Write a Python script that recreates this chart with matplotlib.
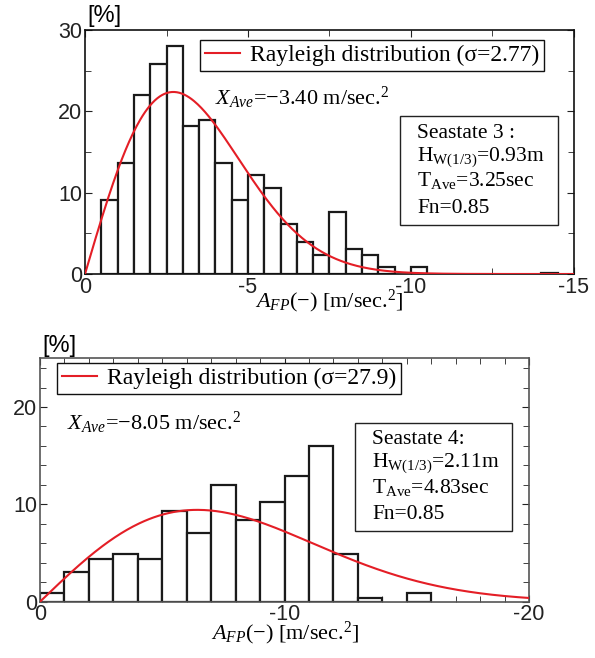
import numpy as np
import matplotlib
matplotlib.use("Agg")
import matplotlib.pyplot as plt
from matplotlib.patches import Rectangle
from matplotlib.ticker import MultipleLocator

plt.rcParams['font.family'] = ['Liberation Sans', 'DejaVu Sans']
plt.rcParams['mathtext.fontset'] = 'custom'
plt.rcParams['mathtext.rm'] = 'Liberation Serif'
plt.rcParams['mathtext.it'] = 'Liberation Serif:italic'
plt.rcParams['mathtext.bf'] = 'Liberation Serif:bold'

# seastate 3 histogram (bin centres in m/sec^2, percentage)
top_centers = [-0.75, -1.25, -1.75, -2.25, -2.75, -3.25, -3.75, -4.25, -4.75, -5.25,
               -5.75, -6.25, -6.75, -7.25, -7.75, -8.25, -8.75, -9.25, -10.25, -14.25]
top_pct = [9.1, 13.7, 22.0, 25.8, 28.0, 18.2, 18.9, 13.7, 9.1, 12.2,
           10.6, 6.1, 3.9, 2.3, 7.6, 3.1, 2.3, 0.8, 0.8, 0.15]
top_sigma = 2.71
top_sigma_label = "2.77"

# seastate 4 histogram
bot_centers = [-0.5, -1.5, -2.5, -3.5, -4.5, -5.5, -6.5, -7.5, -8.5, -9.5,
               -10.5, -11.5, -12.5, -13.5, -15.5]
bot_pct = [0.86, 3.1, 4.4, 4.85, 4.4, 9.3, 7.1, 12.0, 8.4, 10.2,
           12.9, 16.0, 4.9, 0.4, 0.9]
bot_sigma = 6.43
bot_sigma_label = "27.9"

W, H = 595, 658
fig = plt.figure(figsize=(W / 100, H / 100), dpi=100)


def fx(x):
    return x / W


def fy(y):
    return 1 - y / H


def rayleigh(r, s):
    return 100 * r / s**2 * np.exp(-r**2 / (2 * s**2))


serif = 'Liberation Serif'
red = '#e41e26'


def draw(ax, centers, pct, width, sigma, xmax, ymax, spine_col):
    ax.bar(centers, pct, width=width, facecolor='white', edgecolor='#1a1a1a',
           linewidth=1.6, zorder=2)
    r = np.linspace(0, xmax, 400)
    line, = ax.plot(-r, rayleigh(r, sigma), color=red, lw=1.5, zorder=3)
    ax.set_xlim(0, -xmax)
    ax.set_ylim(0, ymax)
    ax.tick_params(which='both', direction='in', top=True, right=True,
                   labelsize=15.5, pad=2, colors='#222')
    ax.tick_params(which='major', length=5)
    ax.tick_params(which='minor', length=4)
    for s in ax.spines.values():
        s.set_color(spine_col)
        s.set_linewidth(1.2)
    return line


def add_legend(ax, line, label, x, y):
    leg = ax.legend([line], [label], loc='upper left', bbox_to_anchor=(fx(x), fy(y)),
                    bbox_transform=fig.transFigure, prop={'family': serif, 'size': 17},
                    frameon=True, fancybox=False, edgecolor='#111', framealpha=1,
                    handlelength=1.5, handletextpad=0.4, borderpad=0.2,
                    borderaxespad=0)
    leg.get_frame().set_linewidth(1.0)


# --- top chart
ax1 = fig.add_axes([fx(85), fy(274), fx(574) - fx(85), fy(30) - fy(274)])
l1 = draw(ax1, top_centers, top_pct, 0.5, top_sigma, 15, 30, '#111')
ax1.xaxis.set_minor_locator(MultipleLocator(2.5))
ax1.yaxis.set_major_locator(MultipleLocator(10))
ax1.yaxis.set_minor_locator(MultipleLocator(5))
ax1.set_xticks([0, -5, -10, -15])
ax1.set_xticklabels(['0', '-5', '-10', '-15'])
add_legend(ax1, l1, "Rayleigh distribution (σ=%s)" % top_sigma_label, 200, 40)

fig.text(fx(215), fy(105), r"$X_{Ave}$=−3.40 m/sec.$^2$", fontsize=16,
         family=serif, va='baseline')
fig.text(fx(87), fy(16), "[%]", fontsize=17, va='center')
fig.text(fx(329), fy(307), r"$A_{FP}$(−) [m/sec.$^2$]", fontsize=16,
         family=serif, ha='center', va='baseline')

fig.patches.append(Rectangle((fx(400), fy(225)), fx(558) - fx(400), fy(116) - fy(225),
                             transform=fig.transFigure, facecolor='white',
                             edgecolor='#222', lw=1.0, zorder=5))
top_lines = ["Seastate 3 :", r"H$_{\rm W(1/3)}$=0.93m", r"T$_{\rm Ave}$=3.25sec", "Fn=0.85"]
for txt, yb in zip(top_lines, [137.7, 160.7, 185.7, 213]):
    fig.text(fx(417), fy(yb), txt, fontsize=15.5, family=serif, va='baseline', zorder=6)

# --- bottom chart
ax2 = fig.add_axes([fx(40), fy(601.7), fx(529) - fx(40), fy(358.3) - fy(601.7)])
l2 = draw(ax2, bot_centers, bot_pct, 1.0, bot_sigma, 20, 25, '#555')
ax2.xaxis.set_minor_locator(MultipleLocator(1))
ax2.yaxis.set_major_locator(MultipleLocator(10))
ax2.yaxis.set_minor_locator(MultipleLocator(2))
ax2.set_xticks([0, -10, -20])
ax2.set_xticklabels(['0', '-10', '-20'])
add_legend(ax2, l2, "Rayleigh distribution (σ=%s)" % bot_sigma_label, 57, 363)

fig.text(fx(67), fy(430), r"$X_{Ave}$=−8.05 m/sec.$^2$", fontsize=16,
         family=serif, va='baseline')
fig.text(fx(42), fy(346), "[%]", fontsize=17, va='center')
fig.text(fx(285), fy(639), r"$A_{FP}$(−) [m/sec.$^2$]", fontsize=16,
         family=serif, ha='center', va='baseline')

fig.patches.append(Rectangle((fx(355), fy(531)), fx(512) - fx(355), fy(423) - fy(531),
                             transform=fig.transFigure, facecolor='white',
                             edgecolor='#222', lw=1.0, zorder=5))
bot_lines = ["Seastate 4:", r"H$_{\rm W(1/3)}$=2.11m", r"T$_{\rm Ave}$=4.83sec", "Fn=0.85"]
for txt, yb in zip(bot_lines, [444.3, 467.3, 492.7, 519.3]):
    fig.text(fx(372), fy(yb), txt, fontsize=15.5, family=serif, va='baseline', zorder=6)

fig.savefig("out.png", dpi=100)
